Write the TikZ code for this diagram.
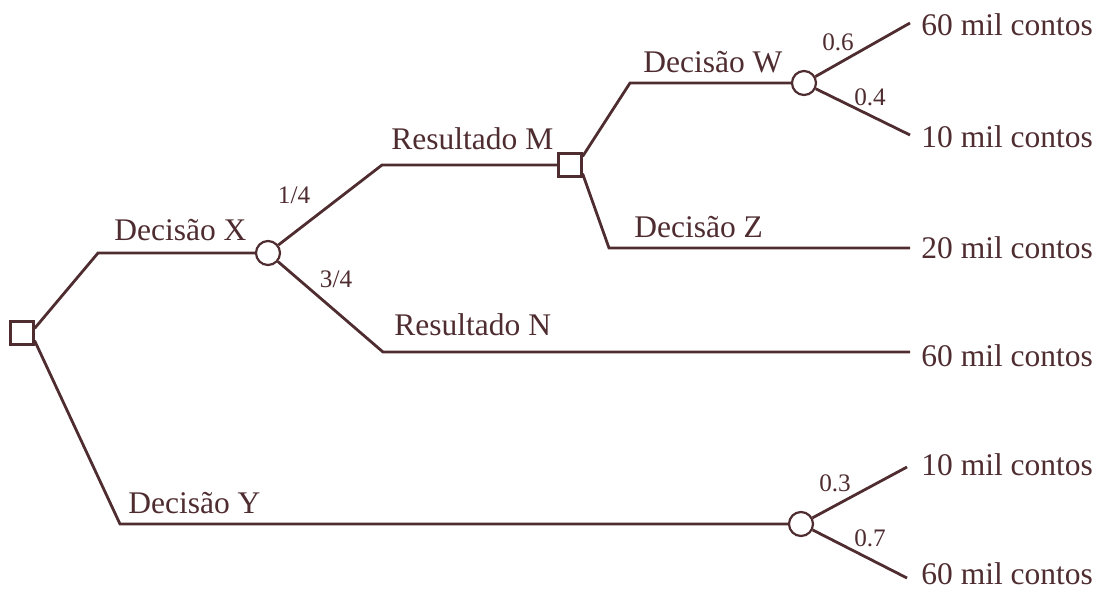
\documentclass[tikz,border=0pt]{standalone}
\usepackage{fontspec}
\setmainfont{Liberation Serif}
\definecolor{ink}{RGB}{78,44,48}
\begin{document}
\begin{tikzpicture}[x=0.5pt,y=-0.5pt,
  line width=1.4pt, draw=ink, text=ink,
  decision/.style={draw=ink, fill=white, rectangle, minimum size=11.5pt, inner sep=0pt, line width=1.1pt},
  chance/.style={draw=ink, fill=white, circle, minimum size=12pt, inner sep=0pt, line width=1.1pt},
  branch/.style={anchor=base west, inner sep=0pt, font=\fontsize{15.75}{18}\selectfont},
  payoff/.style={anchor=base west, inner sep=0pt, font=\fontsize{15.75}{18}\selectfont},
  prob/.style={inner sep=0pt, font=\fontsize{12.6}{14}\selectfont}]
\useasboundingbox (0,0) rectangle (1103,591);

% corner points of the branches
\coordinate (a1) at (98,253);
\coordinate (a2) at (120,524);
\coordinate (m1) at (382,165);
\coordinate (n1) at (383,352);
\coordinate (w1) at (630,83);
\coordinate (z1) at (609,248);
% free ends of the final branches
\coordinate (e1) at (910,23);
\coordinate (e2) at (910,135);
\coordinate (e3) at (910,248);
\coordinate (e4) at (910,352);
\coordinate (e5) at (907,467);
\coordinate (e6) at (907,578);

% decision and chance nodes
\node[decision] (root) at (22,333) {};
\node[chance]   (cX)   at (268,253) {};
\node[decision] (sM)   at (570,165) {};
\node[chance]   (cW)   at (804,83) {};
\node[chance]   (cY)   at (801,524) {};

% branches
\draw ([yshift=-4pt]root.north east) -- (a1) -- (cX);
\draw ([yshift=2.5pt]root.south east) -- (a2) -- (cY);
\draw (cX) -- (m1) -- (sM);
\draw (cX) -- (n1) -- (e4);
\draw ([yshift=-2pt]sM.north east) -- (w1) -- (cW);
\draw ([yshift=2pt]sM.south east) -- (z1) -- (e3);
\draw (cW) -- (e1);
\draw (cW) -- (e2);
\draw (cY) -- (e5);
\draw (cY) -- (e6);

% branch labels
\node[branch] (lX) at (113,240) {Decisão X};
\node[branch] (lY) at (127,513) {Decisão Y};
\node[branch] (lM) at (390,149) {Resultado M};
\node[branch] (lN) at (393,335) {Resultado N};
\node[branch] (lW) at (642,72) {Decisão W};
\node[branch] (lZ) at (633,237) {Decisão Z};

% probabilities
\node[prob] (p1) at (294,195) {1/4};
\node[prob] (p2) at (336,279) {3/4};
\node[prob] (p3) at (838,42) {0.6};
\node[prob] (p4) at (870,97) {0.4};
\node[prob] (p5) at (835,483) {0.3};
\node[prob] (p6) at (870,538) {0.7};

% payoffs
\node[payoff] (t1) at (920,35)  {60 mil contos};
\node[payoff] (t2) at (920,147) {10 mil contos};
\node[payoff] (t3) at (920,258) {20 mil contos};
\node[payoff] (t4) at (920,366) {60 mil contos};
\node[payoff] (t5) at (920,475) {10 mil contos};
\node[payoff] (t6) at (920,584) {60 mil contos};
\end{tikzpicture}
\end{document}
